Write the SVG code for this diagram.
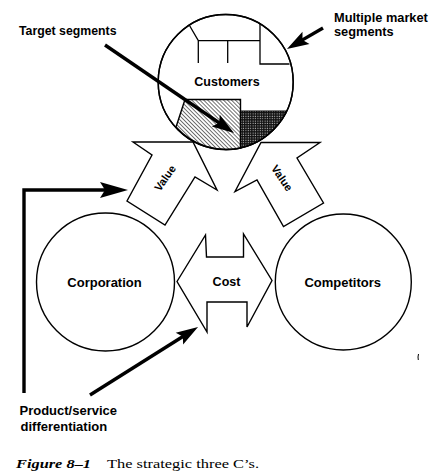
<svg xmlns="http://www.w3.org/2000/svg" width="446" height="476" viewBox="0 0 446 476">
<style>
.shape{fill:#fff;stroke:#000;stroke-width:1.4;stroke-linejoin:miter}
.thin{fill:none;stroke:#000;stroke-width:1.3}
.lbl{font-family:"Liberation Sans",Arial,sans-serif;font-weight:bold;fill:#000}
.conn{fill:none;stroke:#000;stroke-width:3.4}
.cap{font-family:"Liberation Serif","Times New Roman",serif;fill:#000}
</style>
<defs>
<pattern id="hatch" width="2.8" height="2.8" patternUnits="userSpaceOnUse" patternTransform="rotate(-45)">
<rect width="2.8" height="2.8" fill="#fff"/>
<line x1="0" y1="0" x2="0" y2="2.8" stroke="#000" stroke-width="1.1"/>
</pattern>
<pattern id="dots" width="2.4" height="2.4" patternUnits="userSpaceOnUse">
<rect width="2.4" height="2.4" fill="#111"/>
<rect x="0.6" y="0.6" width="0.9" height="0.9" fill="#fff"/>
</pattern>
<marker id="ah" markerUnits="userSpaceOnUse" viewBox="0 -7 22 14" markerWidth="22" markerHeight="14" refX="6" refY="0" orient="auto" overflow="visible">
<path d="M0,-7 L22,0 L0,7 L4,0 Z" fill="#000"/>
</marker>
<marker id="ahL" markerUnits="userSpaceOnUse" viewBox="0 -8 28 16" markerWidth="28" markerHeight="16" refX="12" refY="0" orient="auto" overflow="visible">
<path d="M0,-8 L28,0 L0,8 L5,0 Z" fill="#000"/>
</marker>
</defs>
<rect width="446" height="476" fill="#fff"/>

<g id="value-left">
<polygon class="shape" points="133,142 193,142 217,190 195,177 165,225 127,201 152,155"/>
<text class="lbl" font-size="11" text-anchor="middle" dy="0.35em" transform="translate(165,178) rotate(-55)">Value</text>
</g>
<g id="value-right">
<polygon class="shape" points="320,142.5 261,142.5 235,191.5 257,180 283.5,226.5 323.5,203 297,158"/>
<text class="lbl" font-size="11" text-anchor="middle" dy="0.35em" transform="translate(282,178) rotate(56)">Value</text>
</g>

<g id="customers">
<circle class="shape" cx="225.7" cy="82" r="67.5"/>
<path class="thin" d="M189.5,25.5 L198.3,40.7 L260,40.7 M198.3,40.7 V63 M227.7,40.7 V63 M260,23.8 V64 H289.5"/>
<path d="M185,99.5 L240.5,99.5 L240.5,148 A67.5,67.5 0 0 1 176,127 Z" fill="url(#hatch)" stroke="#000" stroke-width="1.4"/>
<path d="M240.5,111 L286.6,111 A67.5,67.5 0 0 1 240.5,148 Z" fill="url(#dots)" stroke="#000" stroke-width="1.2"/>
<circle cx="225.7" cy="82" r="67.5" fill="none" stroke="#000" stroke-width="1.4"/>
<text class="lbl" x="227" y="86" font-size="12.5" text-anchor="middle">Customers</text>
</g>

<g id="corporation">
<circle class="shape" cx="105.5" cy="282" r="69"/>
<text class="lbl" x="104.5" y="286.5" font-size="13" text-anchor="middle">Corporation</text>
</g>

<g id="competitors">
<circle class="shape" cx="343.3" cy="282" r="68"/>
<text class="lbl" x="342.7" y="286.5" font-size="13" text-anchor="middle">Competitors</text>
</g>

<g id="cost">
<polygon class="shape" points="177,281.5 205.5,235 206.5,257 243.5,257 243.5,234 272,280.5 247,327 247,302 207,302 207,332"/>
<text class="lbl" x="226.5" y="286" font-size="12.5" text-anchor="middle">Cost</text>
</g>

<g id="labels">
<text class="lbl" x="19" y="34.5" font-size="12.3">Target segments</text>
<text class="lbl" x="334" y="21.5" font-size="12.8">Multiple market</text>
<text class="lbl" x="334" y="35.5" font-size="12.8">segments</text>
<text class="lbl" x="19.5" y="415" font-size="13">Product/service</text>
<text class="lbl" x="20.5" y="430.5" font-size="13">differentiation</text>
</g>

<g id="connectors">
<path class="conn" d="M105,45 L220.8,124" marker-end="url(#ah)"/>
<path class="conn" d="M323,28 L300.8,40.9" marker-end="url(#ah)"/>
<path class="conn" d="M24,393 L24,190 L112,190" marker-end="url(#ahL)"/>
<path class="conn" d="M90,395 L184.5,335.5" marker-end="url(#ah)"/>
</g>

<path d="M418.5,354 Q417.6,357 418.3,360" fill="none" stroke="#000" stroke-width="1"/>

<g id="caption">
<text class="cap" x="16" y="468" font-size="13.5" font-weight="bold" font-style="italic" textLength="75" lengthAdjust="spacingAndGlyphs">Figure 8–1</text>
<text class="cap" x="107" y="468" font-size="13.5" textLength="152" lengthAdjust="spacingAndGlyphs">The strategic three C’s.</text>
</g>
</svg>
